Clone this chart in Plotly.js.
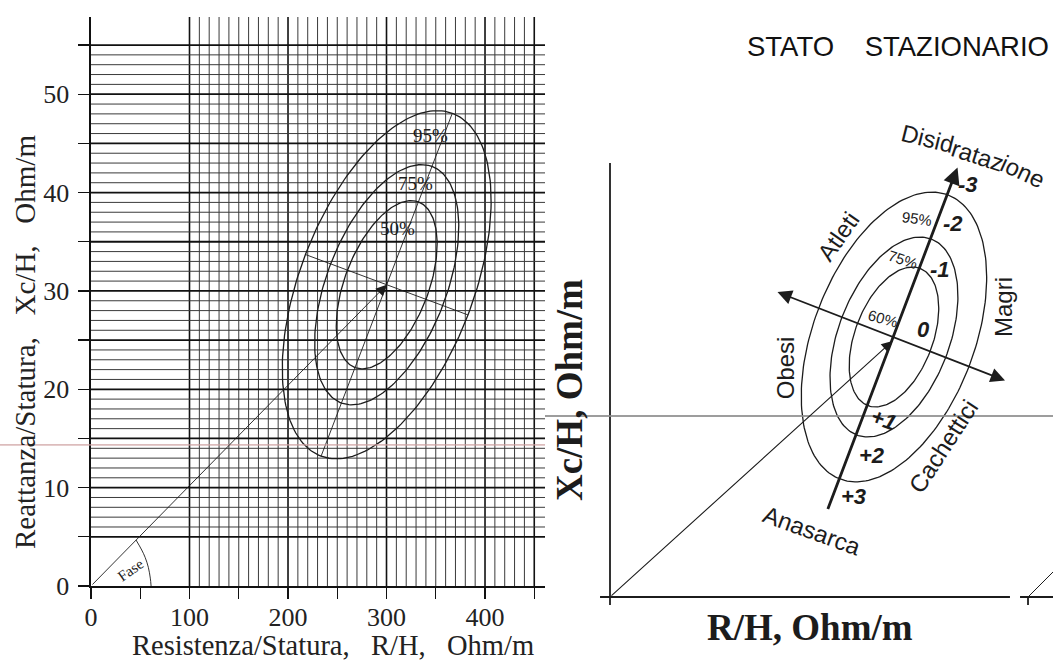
<!DOCTYPE html>
<html><head><meta charset="utf-8">
<script src="https://cdn.plot.ly/plotly-3.0.1.min.js"></script>
<style>html,body{margin:0;padding:0;background:#fff}#chart{width:1053px;height:666px}</style>
</head><body><div id="chart"></div>
<script>
// ================= LEFT CHART DATA =================
const xTickVals = [0, 50, 100, 150, 200, 250, 300, 350, 400, 450];
const xTickText = ['0', '', '100', '', '200', '', '300', '', '400', ''];
const yTickVals = [0, 5, 10, 15, 20, 25, 30, 35, 40, 45, 50, 55];
const yTickText = ['0', '', '10', '', '20', '', '30', '', '40', '', '50', ''];
const leftXRange = [0, 460.9];
const leftYRange = [0, 57.85];
const leftXTitle = 'Resistenza/Statura,\u00A0\u00A0\u00A0R/H,\u00A0\u00A0\u00A0Ohm/m';
const leftYTitle = 'Reattanza/Statura,\u00A0\u00A0\u00A0Xc/H,\u00A0\u00A0\u00A0Ohm/m';

const ellipseLevels = ['50%', '75%', '95%'];
const ellipseScale = [0.483, 0.69, 1.0];          // relative size of the tolerance ellipses
const leftCenter = [300.2, 30.63];                // mean vector (R/H, Xc/H)
const leftMajor = [66.6, 17.43];                  // 95% semi-axis (major)
const leftMinor = [82.5, -3.07];                  // 95% semi-axis (minor)
const leftLabelX = [311.4, 329.3, 344.3];
const leftLabelY = [36.3, 40.9, 45.85];
const faseArcX = [61, 60.2, 58.2, 55.0, 51.5, 45.7];
const faseArcY = [0, 0.8, 1.9, 2.9, 3.66, 4.68];
const faseLabel = {text: 'Fase', x: 40.3, y: 1.6};
const leftScanLineY = 14.35;

// ================= RIGHT CHART DATA =================
const rTitle = 'STATO\u00A0\u00A0\u00A0\u00A0STAZIONARIO';
const rXRange = [-68.42, 466.3];
const rYRange = [-8.166, 70.651];
const rCenter = [298.9, 30.77];
const rMajor = [56.96, 16.80];
const rMinor = [79.24, -3.415];
const rPctText = ['60%', '75%', '95%'];
const rPctX = [287.7, 308.7, 322.8];
const rPctY = [32.98, 40.0, 44.82];
const rPctAngle = [15, 18, 8];
const scoreText = ['-3', '-2', '-1', '0', '+1', '+2', '+3'];
const scoreX = [377.2, 361.4, 347.4, 329.8, 287.7, 275.5, 256.1];
const scoreY = [48.76, 44.22, 38.78, 31.6, 20.95, 16.8, 11.87];
const groupText = ['Disid', 'rataz', 'ione', 'Atleti', 'Obesi', 'Magri', 'Cachettici', 'Anasarca'];
const groupX = [334.0, 386.6, 434.4, 240.3, 184.2, 414.0, 350.8, 212.3];
const groupY = [54.26, 52.22, 50.33, 42.63, 27.07, 34.36, 17.79, 7.85];
const groupAngle = [14, 18, 25, -55, -90, -90, -57, 20];
const rMajorLineX = [228.7, 365.8];
const rMajorLineY = [10.24, 50.83];
const rMinorLineX = [174.7, 415.8];
const rMinorLineY = [36.15, 25.62];
const rPhaseEnd = [297.4, 30.3];
const rAxisVX = [0, 0], rAxisVY = [-0.95, 51.36];
const rAxisHX = [-10.5, 421], rAxisHY = [0, 0];
const nextAxisX = [431.6, 466.3], nextAxisY = [0, 0];
const nextTickX = [440, 440], nextTickY = [0, -0.95];
const nextPhaseX = [440, 466.3], nextPhaseY = [0, 2.96];
const rScanLineY = 21.42;

// ================= BUILD =================
const serif = 'Liberation Serif, Times New Roman, serif';
const sans = 'Liberation Sans, Arial, sans-serif';
const ink = '#1c1c1c';

function ellipse(c, a, b, s) {
  const xs = [], ys = [], n = 200;
  for (let i = 0; i <= n; i++) {
    const t = 2 * Math.PI * i / n;
    xs.push(c[0] + s * (a[0] * Math.cos(t) + b[0] * Math.sin(t)));
    ys.push(c[1] + s * (a[1] * Math.cos(t) + b[1] * Math.sin(t)));
  }
  return [xs, ys];
}

const traces = [];
ellipseScale.forEach((s, i) => {
  const [xs, ys] = ellipse(leftCenter, leftMajor, leftMinor, s);
  traces.push({x: xs, y: ys, xaxis: 'x', yaxis: 'y', mode: 'lines', name: ellipseLevels[i],
    line: {color: ink, width: 1.3}, hoverinfo: 'skip'});
});
// principal axes of the left ellipses
traces.push({x: [leftCenter[0] - leftMajor[0], leftCenter[0] + leftMajor[0]],
  y: [leftCenter[1] - leftMajor[1], leftCenter[1] + leftMajor[1]], xaxis: 'x', yaxis: 'y',
  mode: 'lines', line: {color: ink, width: 0.9}, hoverinfo: 'skip'});
traces.push({x: [leftCenter[0] - leftMinor[0], leftCenter[0] + leftMinor[0]],
  y: [leftCenter[1] - leftMinor[1], leftCenter[1] + leftMinor[1]], xaxis: 'x', yaxis: 'y',
  mode: 'lines', line: {color: ink, width: 0.9}, hoverinfo: 'skip'});
traces.push({x: faseArcX, y: faseArcY, xaxis: 'x', yaxis: 'y', mode: 'lines',
  line: {color: ink, width: 0.9, shape: 'spline'}, hoverinfo: 'skip'});

ellipseScale.forEach((s, i) => {
  const [xs, ys] = ellipse(rCenter, rMajor, rMinor, s);
  traces.push({x: xs, y: ys, xaxis: 'x2', yaxis: 'y2', mode: 'lines', name: rPctText[i],
    line: {color: ink, width: 1.3}, hoverinfo: 'skip'});
});
[[rAxisVX, rAxisVY], [rAxisHX, rAxisHY], [nextAxisX, nextAxisY], [nextTickX, nextTickY]].forEach(p => {
  traces.push({x: p[0], y: p[1], xaxis: 'x2', yaxis: 'y2', mode: 'lines',
    line: {color: ink, width: 1.8}, hoverinfo: 'skip'});
});
traces.push({x: nextPhaseX, y: nextPhaseY, xaxis: 'x2', yaxis: 'y2', mode: 'lines',
  line: {color: ink, width: 1.0}, hoverinfo: 'skip'});

// grid of the left chart
const shapes = [];
for (let x = 100; x <= 450; x += 10) {
  const thick = (x % 100 === 0) || x === 450;
  shapes.push({type: 'line', xref: 'x', yref: 'y', x0: x, x1: x, y0: leftYRange[0], y1: leftYRange[1],
    layer: 'below', line: {color: thick ? '#111' : '#3a3a3a', width: thick ? 1.6 : 1.0}});
}
for (let y = 5; y <= 55; y += 1) {
  const thick = y % 5 === 0;
  shapes.push({type: 'line', xref: 'x', yref: 'y', x0: leftXRange[0], x1: leftXRange[1], y0: y, y1: y,
    layer: 'below', line: {color: thick ? '#111' : '#3a3a3a', width: thick ? 1.8 : 1.0}});
}
// scan artefacts (paper fold lines)
shapes.push({type: 'line', xref: 'paper', yref: 'y', x0: 0, x1: 545 / 1053, y0: leftScanLineY, y1: leftScanLineY,
  layer: 'above', line: {color: 'rgba(205,160,160,0.7)', width: 1.6}});
shapes.push({type: 'line', xref: 'paper', yref: 'y2', x0: 545 / 1053, x1: 1, y0: rScanLineY, y1: rScanLineY,
  layer: 'above', line: {color: 'rgba(140,140,140,0.85)', width: 2}});

const annotations = [];
// left axis titles
annotations.push({xref: 'paper', yref: 'paper', x: 333 / 1053, y: 1 - 645 / 666, xanchor: 'center', yanchor: 'middle',
  text: leftXTitle, showarrow: false, font: {family: serif, size: 28.5, color: '#222'}});
annotations.push({xref: 'paper', yref: 'paper', x: 25 / 1053, y: 1 - 342 / 666, xanchor: 'center', yanchor: 'middle',
  text: leftYTitle, textangle: -90, showarrow: false, font: {family: serif, size: 29, color: '#222'}});
ellipseLevels.forEach((t, i) => annotations.push({xref: 'x', yref: 'y', x: leftLabelX[i], y: leftLabelY[i],
  text: t, showarrow: false, font: {family: serif, size: 19, color: ink}}));
annotations.push({xref: 'x', yref: 'y', x: faseLabel.x, y: faseLabel.y, text: faseLabel.text, showarrow: false,
  textangle: -35, font: {family: serif, size: 15, color: ink}});
// phase vector (left)
annotations.push({xref: 'x', yref: 'y', axref: 'x', ayref: 'y', x: leftCenter[0], y: leftCenter[1], ax: 0, ay: 0,
  text: '', showarrow: true, arrowhead: 2, arrowsize: 2.4, arrowwidth: 0.9, arrowcolor: ink, standoff: 0, startstandoff: 0});

// right chart annotations
annotations.push({xref: 'x2', yref: 'y2', axref: 'x2', ayref: 'y2', x: rPhaseEnd[0], y: rPhaseEnd[1], ax: 0, ay: 0,
  text: '', showarrow: true, arrowhead: 2, arrowsize: 2, arrowwidth: 1.1, arrowcolor: ink, standoff: 0, startstandoff: 0});
annotations.push({xref: 'x2', yref: 'y2', axref: 'x2', ayref: 'y2', x: rMajorLineX[1], y: rMajorLineY[1],
  ax: rMajorLineX[0], ay: rMajorLineY[0], text: '', showarrow: true, arrowhead: 2, arrowsize: 1.2,
  arrowwidth: 2.8, arrowcolor: ink, standoff: 0, startstandoff: 0});
annotations.push({xref: 'x2', yref: 'y2', axref: 'x2', ayref: 'y2', x: rMinorLineX[1], y: rMinorLineY[1],
  ax: rMinorLineX[0], ay: rMinorLineY[0], text: '', showarrow: true, arrowside: 'end+start', arrowhead: 2,
  arrowsize: 1.6, arrowwidth: 1.8, arrowcolor: ink, standoff: 0, startstandoff: 0});
rPctText.forEach((t, i) => annotations.push({xref: 'x2', yref: 'y2', x: rPctX[i], y: rPctY[i], text: t,
  showarrow: false, textangle: rPctAngle[i], font: {family: sans, size: 15, color: ink}}));
scoreText.forEach((t, i) => annotations.push({xref: 'x2', yref: 'y2', x: scoreX[i], y: scoreY[i],
  text: '<b><i>' + t + '</i></b>', showarrow: false, textangle: t === '+1' ? 20 : 0,
  font: {family: sans, size: 22, color: ink}}));
groupText.forEach((t, i) => annotations.push({xref: 'x2', yref: 'y2', x: groupX[i], y: groupY[i], text: t,
  showarrow: false, textangle: groupAngle[i], font: {family: sans, size: 24, color: ink}}));
annotations.push({xref: 'x2', yref: 'y2', x: 211, y: -3.6, text: '<b>R/H, Ohm/m</b>', showarrow: false,
  font: {family: serif, size: 37, color: ink}});
annotations.push({xref: 'x2', yref: 'y2', x: -42, y: 24.5, text: '<b>Xc/H, Ohm/m</b>', showarrow: false,
  textangle: -90, font: {family: serif, size: 37, color: ink}});

const layout = {
  width: 1053, height: 666, margin: {l: 0, r: 0, t: 0, b: 0},
  paper_bgcolor: '#fff', plot_bgcolor: 'rgba(0,0,0,0)', showlegend: false,
  title: {text: rTitle, x: 898 / 1053, xanchor: 'center',
    y: 1 - 46 / 666, yanchor: 'middle', yref: 'container',
    font: {family: sans, size: 27.5, color: '#111'}},
  xaxis: {domain: [91 / 1053, 545 / 1053], range: leftXRange, anchor: 'y',
    showgrid: false, zeroline: false, showline: true, linecolor: '#111', linewidth: 1.6,
    tickmode: 'array', tickvals: xTickVals, ticktext: xTickText, ticks: 'outside', ticklen: 11,
    tickwidth: 1.3, tickcolor: '#111', ticklabelstandoff: -4,
    tickfont: {family: serif, size: 26, color: '#222'}},
  yaxis: {domain: [80 / 666, 649 / 666], range: leftYRange, anchor: 'x',
    showgrid: false, zeroline: false, showline: true, linecolor: '#111', linewidth: 1.6,
    tickmode: 'array', tickvals: yTickVals, ticktext: yTickText, ticks: 'outside', ticklen: 11,
    tickwidth: 1.3, tickcolor: '#111', ticklabelstandoff: 4,
    tickfont: {family: serif, size: 26, color: '#222'}},
  xaxis2: {domain: [545 / 1053, 1], range: rXRange, anchor: 'y2', visible: false},
  yaxis2: {domain: [0, 1], range: rYRange, anchor: 'x2', visible: false},
  shapes: shapes, annotations: annotations
};

Plotly.newPlot('chart', traces, layout, {displayModeBar: false, staticPlot: true});
</script>
</body></html>
